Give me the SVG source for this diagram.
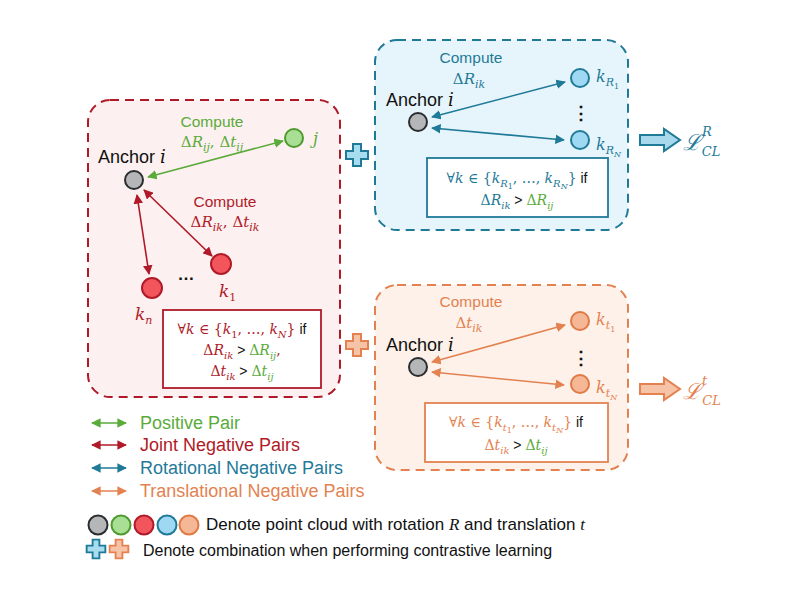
<svg xmlns="http://www.w3.org/2000/svg" width="800" height="600" viewBox="0 0 800 600">
<style>
.sans{font-family:"Liberation Sans",Arial,sans-serif}
.m{font-family:"DejaVu Serif","Liberation Serif",serif;font-style:italic}
.up{font-style:normal}
.g{fill:#5aab3a}.r{fill:#b01a28}.b{fill:#1f7a98}.o{fill:#e38250}.k{fill:#111}
.node{stroke-width:2}
.gray{fill:#b4b6b8;stroke:#2a2d30}
.grn{fill:#a8df95;stroke:#4e9a2e}
.red{fill:#f2555c;stroke:#b01a28}
.blu{fill:#9fd8f2;stroke:#1f7a98}
.org{fill:#f6b796;stroke:#e07a45}
.lg{stroke:#5aab3a}.lr{stroke:#b01a28}.lb{stroke:#1f7a98}.lo{stroke:#e38250}
.line{stroke-width:1.6;fill:none}
</style>
<defs>
<marker id="ag" viewBox="0 0 10 10" refX="9" refY="5" markerWidth="6" markerHeight="6" orient="auto-start-reverse" markerUnits="strokeWidth"><path d="M0,0 L10,5 L0,10 z" fill="#5aab3a"/></marker>
<marker id="ar" viewBox="0 0 10 10" refX="9" refY="5" markerWidth="6" markerHeight="6" orient="auto-start-reverse" markerUnits="strokeWidth"><path d="M0,0 L10,5 L0,10 z" fill="#b01a28"/></marker>
<marker id="ab" viewBox="0 0 10 10" refX="9" refY="5" markerWidth="6" markerHeight="6" orient="auto-start-reverse" markerUnits="strokeWidth"><path d="M0,0 L10,5 L0,10 z" fill="#1f7a98"/></marker>
<marker id="ao" viewBox="0 0 10 10" refX="9" refY="5" markerWidth="6" markerHeight="6" orient="auto-start-reverse" markerUnits="strokeWidth"><path d="M0,0 L10,5 L0,10 z" fill="#e38250"/></marker>
<path id="cross" d="M-4,-11 H4 V-4 H11 V4 H4 V11 H-4 V4 H-11 V-4 H-4 Z"/>
</defs>

<!-- containers -->
<g id="box-joint">
<rect x="88" y="100" width="252" height="297" rx="22" fill="#fdf0f0" stroke="#b01a28" stroke-width="2" stroke-dasharray="9,6"/>
</g>
<g id="box-rot">
<rect x="375" y="40" width="253" height="190" rx="22" fill="#e6f5fb" stroke="#1f7a98" stroke-width="2" stroke-dasharray="9,6"/>
</g>
<g id="box-trans">
<rect x="375" y="285" width="253" height="185" rx="22" fill="#fdf1ea" stroke="#e38250" stroke-width="2" stroke-dasharray="9,6"/>
</g>

<!-- connectors -->
<g id="connectors">
<line class="line lg" x1="148" y1="177" x2="283" y2="141" marker-start="url(#ag)" marker-end="url(#ag)"/>
<line class="line lr" x1="144" y1="190" x2="212" y2="256" marker-start="url(#ar)" marker-end="url(#ar)"/>
<line class="line lr" x1="137" y1="195" x2="149" y2="274" marker-start="url(#ar)" marker-end="url(#ar)"/>
<line class="line lb" x1="432" y1="117" x2="565" y2="82" marker-start="url(#ab)" marker-end="url(#ab)"/>
<line class="line lb" x1="432" y1="128" x2="564" y2="140" marker-start="url(#ab)" marker-end="url(#ab)"/>
<line class="line lo" x1="432" y1="362" x2="565" y2="325" marker-start="url(#ao)" marker-end="url(#ao)"/>
<line class="line lo" x1="432" y1="372" x2="564" y2="385" marker-start="url(#ao)" marker-end="url(#ao)"/>
<!-- legend arrows -->
<line class="line lg" x1="92" y1="423" x2="126" y2="423" marker-start="url(#ag)" marker-end="url(#ag)"/>
<line class="line lr" x1="92" y1="445" x2="126" y2="445" marker-start="url(#ar)" marker-end="url(#ar)"/>
<line class="line lb" x1="92" y1="468" x2="126" y2="468" marker-start="url(#ab)" marker-end="url(#ab)"/>
<line class="line lo" x1="92" y1="491" x2="126" y2="491" marker-start="url(#ao)" marker-end="url(#ao)"/>
</g>

<!-- joint box nodes -->
<g id="anchor-joint">
<text x="98" y="163" class="sans k" font-size="18">Anchor <tspan class="m">i</tspan></text>
<circle cx="134" cy="180" r="9" class="node gray"/>
</g>
<g id="node-j">
<circle cx="294" cy="138" r="9" class="node grn"/>
<text x="313" y="144" class="m g" font-size="16">j</text>
</g>
<g id="label-pos">
<text x="212" y="127" class="sans g" font-size="15.5" text-anchor="middle">Compute</text>
<text x="212" y="147" class="m g" font-size="15" text-anchor="middle"><tspan class="up">Δ</tspan>R<tspan font-size="11" dy="4">ij</tspan><tspan dy="-4" class="up">, Δ</tspan>t<tspan font-size="11" dy="4">ij</tspan></text>
</g>
<g id="label-neg">
<text x="225" y="207" class="sans r" font-size="15.5" text-anchor="middle">Compute</text>
<text x="225" y="227" class="m r" font-size="15" text-anchor="middle"><tspan class="up">Δ</tspan>R<tspan font-size="11" dy="4">ik</tspan><tspan dy="-4" class="up">, Δ</tspan>t<tspan font-size="11" dy="4">ik</tspan></text>
</g>
<g id="node-k1">
<circle cx="221" cy="264" r="10" class="node red"/>
<text x="219" y="297" class="m r" font-size="17">k<tspan font-size="11" dy="4" class="up">1</tspan></text>
</g>
<g id="node-kn">
<circle cx="152" cy="288" r="10" class="node red"/>
<text x="135" y="320" class="m r" font-size="17">k<tspan font-size="11" dy="4">n</tspan></text>
</g>
<text x="186" y="280" class="sans k" font-size="17" font-weight="bold" text-anchor="middle">…</text>
<g id="cond-joint">
<rect x="163" y="310" width="158" height="78" fill="#fff" stroke="#b01a28" stroke-width="1.8"/>
<text x="242" y="334" class="m r" font-size="14" text-anchor="middle"><tspan class="up">∀</tspan>k <tspan class="up">∈ {</tspan>k<tspan font-size="10" dy="4" class="up">1</tspan><tspan dy="-4" class="up">, …, </tspan>k<tspan font-size="10" dy="4">N</tspan><tspan dy="-4" class="up">}</tspan><tspan class="sans k up"> if</tspan></text>
<text x="242" y="355" class="m r" font-size="14" text-anchor="middle"><tspan class="up">Δ</tspan>R<tspan font-size="10" dy="4">ik</tspan><tspan dy="-4" class="sans k up"> &gt; </tspan><tspan class="g up">Δ</tspan><tspan class="g">R</tspan><tspan font-size="10" dy="4" class="g">ij</tspan><tspan dy="-4" class="up">,</tspan></text>
<text x="242" y="376" class="m r" font-size="14" text-anchor="middle"><tspan class="up">Δ</tspan>t<tspan font-size="10" dy="4">ik</tspan><tspan dy="-4" class="sans k up"> &gt; </tspan><tspan class="g up">Δ</tspan><tspan class="g">t</tspan><tspan font-size="10" dy="4" class="g">ij</tspan></text>
</g>

<!-- plus signs -->
<g id="plus-rot"><use href="#cross" transform="translate(357,155)" fill="#a8dcef" stroke="#1f7a98" stroke-width="2"/></g>
<g id="plus-trans"><use href="#cross" transform="translate(357,345)" fill="#f6c3a6" stroke="#e38250" stroke-width="2"/></g>

<!-- rotation box -->
<g id="anchor-rot">
<text x="386" y="106" class="sans k" font-size="18">Anchor <tspan class="m">i</tspan></text>
<circle cx="418" cy="122" r="9" class="node gray"/>
</g>
<g id="label-rot">
<text x="471" y="63" class="sans b" font-size="15.5" text-anchor="middle">Compute</text>
<text x="469" y="84" class="m b" font-size="15" text-anchor="middle"><tspan class="up">Δ</tspan>R<tspan font-size="11" dy="4">ik</tspan></text>
</g>
<g id="node-kR1">
<circle cx="580" cy="78" r="9" class="node blu"/>
<text x="596" y="82" class="m b" font-size="16">k<tspan font-size="11" dy="4">R</tspan><tspan font-size="8" dy="3" class="up">1</tspan></text>
</g>
<text x="581" y="119" class="sans k" font-size="18" font-weight="bold" text-anchor="middle">⋮</text>
<g id="node-kRN">
<circle cx="580" cy="140" r="9" class="node blu"/>
<text x="596" y="150" class="m b" font-size="16">k<tspan font-size="11" dy="4">R</tspan><tspan font-size="8" dy="3">N</tspan></text>
</g>
<g id="cond-rot">
<rect x="427" y="158" width="181" height="59" fill="#fff" stroke="#1f7a98" stroke-width="1.8"/>
<text x="517" y="183" class="m b" font-size="14" text-anchor="middle"><tspan class="up">∀</tspan>k <tspan class="up">∈ {</tspan>k<tspan font-size="10" dy="4">R</tspan><tspan font-size="8" dy="2" class="up">1</tspan><tspan dy="-6" class="up">, …, </tspan>k<tspan font-size="10" dy="4">R</tspan><tspan font-size="8" dy="2">N</tspan><tspan dy="-6" class="up">}</tspan><tspan class="sans k up"> if</tspan></text>
<text x="517" y="205" class="m b" font-size="14" text-anchor="middle"><tspan class="up">Δ</tspan>R<tspan font-size="10" dy="4">ik</tspan><tspan dy="-4" class="sans k up"> &gt; </tspan><tspan class="g up">Δ</tspan><tspan class="g">R</tspan><tspan font-size="10" dy="4" class="g">ij</tspan></text>
</g>
<g id="loss-rot">
<path d="M640,135 H664 V129 L680,140 L664,151 V145 H640 Z" fill="#a8d8ec" stroke="#1f7a98" stroke-width="2" stroke-linejoin="miter"/>
<text x="683" y="150" class="m b" font-size="22">ℒ<tspan font-size="13" dx="1" dy="-14">R</tspan><tspan font-size="13" dx="-10" dy="20">CL</tspan></text>
</g>

<!-- translation box -->
<g id="anchor-trans">
<text x="386" y="351" class="sans k" font-size="18">Anchor <tspan class="m">i</tspan></text>
<circle cx="418" cy="367" r="9" class="node gray"/>
</g>
<g id="label-trans">
<text x="471" y="307" class="sans o" font-size="15.5" text-anchor="middle">Compute</text>
<text x="469" y="328" class="m o" font-size="15" text-anchor="middle"><tspan class="up">Δ</tspan>t<tspan font-size="11" dy="4">ik</tspan></text>
</g>
<g id="node-kt1">
<circle cx="580" cy="321" r="9" class="node org"/>
<text x="596" y="325" class="m o" font-size="16">k<tspan font-size="11" dy="4">t</tspan><tspan font-size="8" dy="3" class="up">1</tspan></text>
</g>
<text x="581" y="364" class="sans k" font-size="18" font-weight="bold" text-anchor="middle">⋮</text>
<g id="node-ktN">
<circle cx="580" cy="384" r="9" class="node org"/>
<text x="596" y="393" class="m o" font-size="16">k<tspan font-size="11" dy="4">t</tspan><tspan font-size="8" dy="3">N</tspan></text>
</g>
<g id="cond-trans">
<rect x="425" y="403" width="183" height="59" fill="#fff" stroke="#e38250" stroke-width="1.8"/>
<text x="516" y="427" class="m o" font-size="14" text-anchor="middle"><tspan class="up">∀</tspan>k <tspan class="up">∈ {</tspan>k<tspan font-size="10" dy="4">t</tspan><tspan font-size="8" dy="2" class="up">1</tspan><tspan dy="-6" class="up">, …, </tspan>k<tspan font-size="10" dy="4">t</tspan><tspan font-size="8" dy="2">N</tspan><tspan dy="-6" class="up">}</tspan><tspan class="sans k up"> if</tspan></text>
<text x="516" y="450" class="m o" font-size="14" text-anchor="middle"><tspan class="up">Δ</tspan>t<tspan font-size="10" dy="4">ik</tspan><tspan dy="-4" class="sans k up"> &gt; </tspan><tspan class="g up">Δ</tspan><tspan class="g">t</tspan><tspan font-size="10" dy="4" class="g">ij</tspan></text>
</g>
<g id="loss-trans">
<path d="M640,384 H664 V378 L680,389 L664,400 V394 H640 Z" fill="#f6c3a6" stroke="#e38250" stroke-width="2"/>
<text x="683" y="399" class="m o" font-size="22">ℒ<tspan font-size="13" dx="1" dy="-14">t</tspan><tspan font-size="13" dx="-5" dy="20">CL</tspan></text>
</g>

<!-- legend -->
<g id="legend">
<text x="140" y="429" class="sans g" font-size="18">Positive Pair</text>
<text x="140" y="451" class="sans r" font-size="18">Joint Negative Pairs</text>
<text x="140" y="474" class="sans b" font-size="18">Rotational Negative Pairs</text>
<text x="140" y="497" class="sans o" font-size="18">Translational Negative Pairs</text>
<circle cx="98" cy="525" r="9.5" class="node gray"/>
<circle cx="121" cy="525" r="9.5" class="node grn"/>
<circle cx="144" cy="525" r="9.5" class="node red"/>
<circle cx="167" cy="525" r="9.5" class="node blu"/>
<circle cx="189" cy="525" r="9.5" class="node org"/>
<text x="206" y="530" class="sans k" font-size="17">Denote point cloud with rotation <tspan font-family="Liberation Serif" font-style="italic">R</tspan> and translation <tspan font-family="Liberation Serif" font-style="italic">t</tspan></text>
<use href="#cross" transform="translate(96,549) scale(0.85)" fill="#a8dcef" stroke="#1f7a98" stroke-width="2.2"/>
<use href="#cross" transform="translate(119,549) scale(0.85)" fill="#f6c3a6" stroke="#e38250" stroke-width="2.2"/>
<text x="143" y="556" class="sans k" font-size="16">Denote combination when performing contrastive learning</text>
</g>
</svg>
